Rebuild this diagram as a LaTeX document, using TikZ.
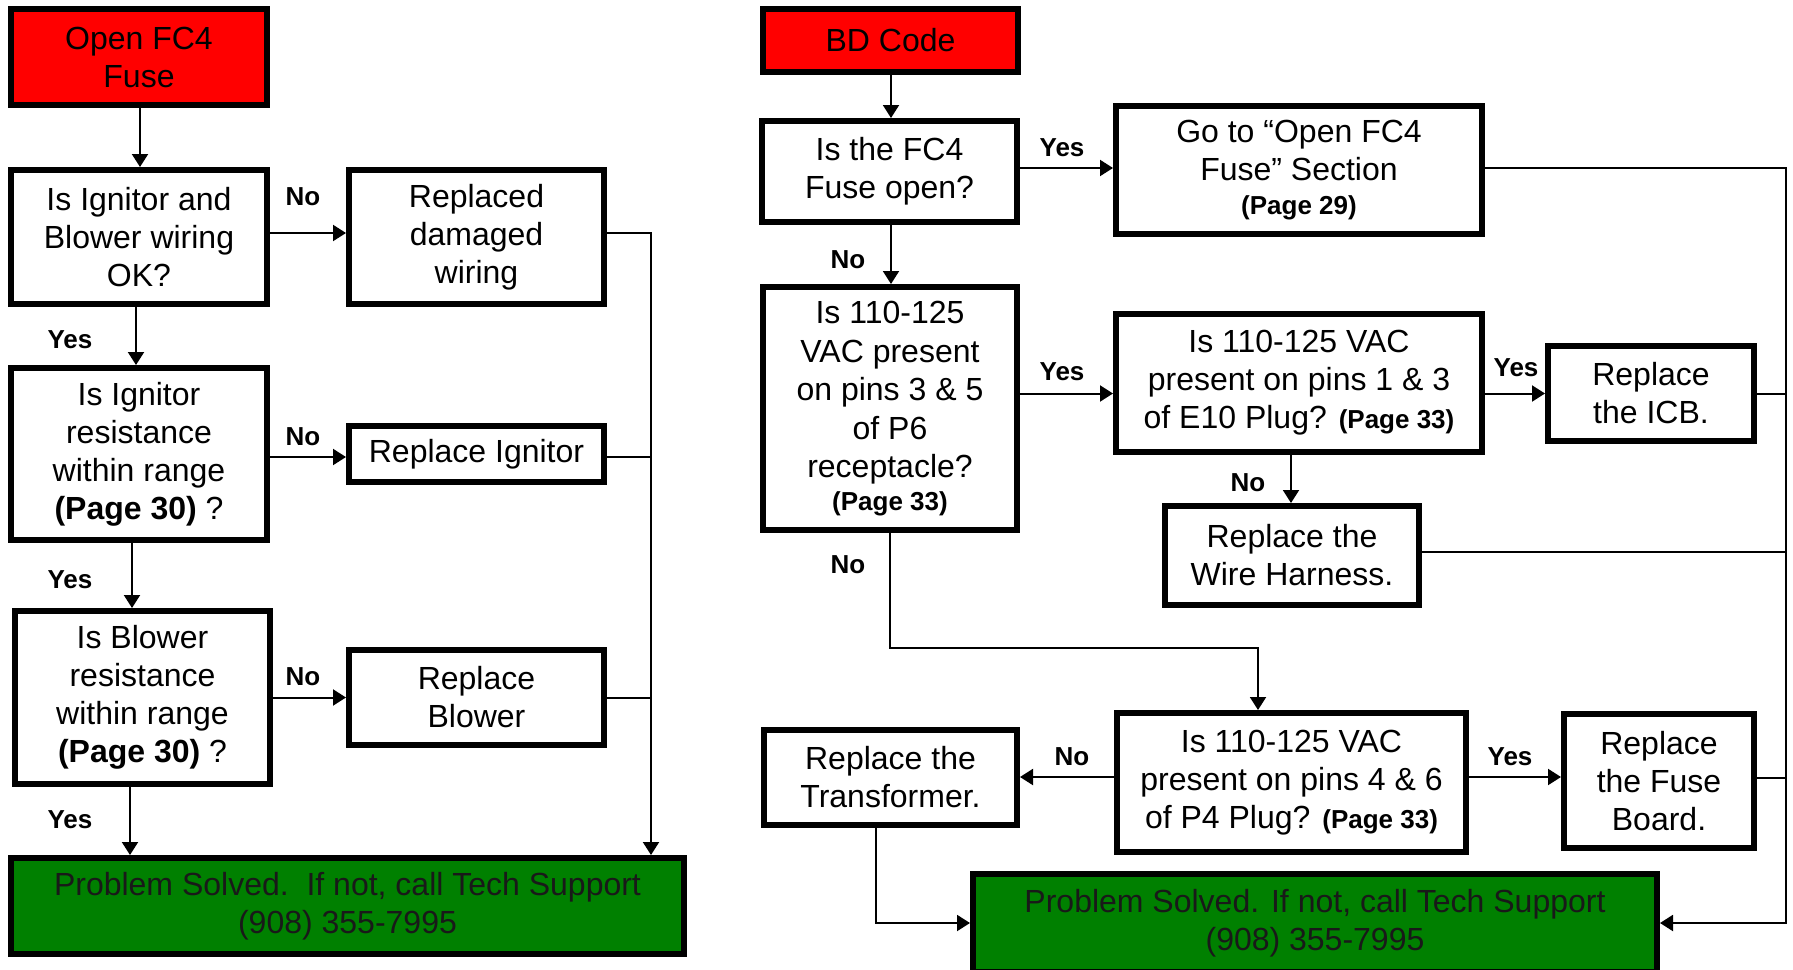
\documentclass[tikz,border=0pt]{standalone}
\usepackage{fontspec}
\setmainfont{Liberation Sans}
\usetikzlibrary{arrows.meta,calc}
\definecolor{boxred}{RGB}{255,0,0}
\definecolor{boxgreen}{RGB}{0,128,0}
\begin{document}
\begin{tikzpicture}[x=0.5pt,y=-0.5pt,
  box/.style={draw=black, line width=3pt, inner sep=0pt, align=center,
    font=\fontsize{16}{19}\selectfont},
  startbox/.style={box, fill=boxred},
  endbox/.style={box, fill=boxgreen, text=black!90},
  lab/.style={font=\fontsize{13}{15}\selectfont\bfseries},
  conn/.style={line width=1pt},
  arr/.style={line width=1pt, -{Triangle[length=6.5pt,width=8pt]}}]
\fill[white] (0,0) rectangle (1793,969);
\useasboundingbox (0,0) rectangle (1793,969);
\newcommand{\smallpg}[1]{{\fontsize{13}{15}\selectfont\bfseries #1}}
% ---------- left flow ----------
\node[startbox, minimum width=128pt, minimum height=48pt] (red1) at (139,57) {Open FC4\\Fuse};
\node[box, minimum width=128pt, minimum height=67pt] (q1) at (139,237) {Is Ignitor and\\Blower wiring\\OK?};
\node[box, minimum width=127.5pt, minimum height=67pt] (r1) at (476.5,237) {Replaced\\damaged\\wiring};
\node[box, minimum width=128pt, minimum height=86pt] (q2) at (139,454) {Is Ignitor\\resistance\\within range\\\textbf{(Page 30)} ?};
\node[box, minimum width=127.5pt, minimum height=28pt] (r2) at (476.5,454) {Replace Ignitor};
\node[box, minimum width=127.5pt, minimum height=86.5pt] (q3) at (142.5,697.5) {Is Blower\\resistance\\within range\\\textbf{(Page 30)} ?};
\node[box, minimum width=127.5pt, minimum height=47.5pt] (r3) at (476.5,697.5) {Replace\\Blower};
\node[endbox, minimum width=336.5pt, minimum height=48pt] (g1) at (347.5,906) {Problem Solved.\ \ If not, call Tech Support\\(908) 355-7995};
\coordinate (busL) at (651,0);

\draw[arr] (red1.south -| 140,0) -- (q1.north -| 140,0);
\draw[arr] (q1.south -| 136,0) -- (q2.north -| 136,0);
\draw[arr] (q2.south -| 132,0) -- (q3.north -| 132,0);
\draw[arr] (q3.south -| 130,0) -- (g1.north -| 130,0);
\draw[arr] (q1.east |- 0,233) -- (r1.west |- 0,233);
\draw[arr] (q2.east |- 0,457) -- (r2.west |- 0,457);
\draw[arr] (q3.east) -- (r3.west);
\draw[arr] (r1.east |- 0,233) -| (busL |- g1.north);
\draw[conn] (r2.east |- 0,457) -- (busL |- 0,457);
\draw[conn] (r3.east) -- (busL |- r3.east);

\node[lab] (n1) at (303,197) {No};
\node[lab] (n2) at (303,437) {No};
\node[lab] (n3) at (303,677) {No};
\node[lab] (y1) at (70,340) {Yes};
\node[lab] (y2) at (70,580) {Yes};
\node[lab] (y3) at (70,820) {Yes};

% ---------- right flow ----------
\node[startbox, minimum width=127.5pt, minimum height=31.5pt] (red2) at (890.5,40.5) {BD Code};
\node[box, minimum width=127.5pt, minimum height=50.5pt] (p1) at (889.5,171.5) {Is the FC4\\Fuse open?};
\node[box, minimum width=183pt, minimum height=64pt] (goto) at (1299,170) {Go to “Open FC4\\Fuse” Section\\[-2pt]\smallpg{(Page 29)}};
\node[box, minimum width=127pt, minimum height=121.5pt, font=\fontsize{16}{19.3}\selectfont] (p2) at (890,408.5) {Is 110-125\\VAC present\\on pins 3 \& 5\\of P6\\receptacle?\\[-3pt]\smallpg{(Page 33)}};
\node[box, minimum width=183pt, minimum height=69pt] (e10) at (1299,383) {Is 110-125 VAC\\present on pins 1 \& 3\\of E10 Plug? \smallpg{(Page 33)}};
\node[box, minimum width=103pt, minimum height=47.5pt] (icb) at (1651,393.5) {Replace\\the ICB.};
\node[box, minimum width=127pt, minimum height=49.5pt] (wh) at (1292,555.5) {Replace the\\Wire Harness.};
\node[box, minimum width=174.5pt, minimum height=69.5pt] (p4) at (1291.5,782.5) {Is 110-125 VAC\\present on pins 4 \& 6\\of P4 Plug? \smallpg{(Page 33)}};
\node[box, minimum width=126.5pt, minimum height=47.5pt] (tr) at (890.5,777.5) {Replace the\\Transformer.};
\node[box, minimum width=95pt, minimum height=67pt] (fb) at (1659,781) {Replace\\the Fuse\\Board.};
\node[endbox, minimum width=342pt, minimum height=49pt] (g2) at (1315,923) {Problem Solved. If not, call Tech Support\\(908) 355-7995};
\coordinate (busR) at (1786,0);
\coordinate (j1) at (1258,648);

\draw[arr] (red2.south -| 891,0) -- (p1.north -| 891,0);
\draw[arr] (p1.south -| 891,0) -- (p2.north -| 891,0);
\draw[arr] (p1.east |- 0,168) -- (goto.west |- 0,168);
\draw[arr] (p2.east |- icb.center) -- (e10.west |- icb.center);
\draw[arr] (e10.east |- icb.center) -- (icb.west);
\draw[arr] (e10.south -| 1291,0) -- (wh.north -| 1291,0);
\draw[arr] (p2.south) |- (j1) -- (j1 |- p4.north);
\draw[arr] (p4.west |- 0,777) -- (tr.east |- 0,777);
\draw[arr] (p4.east |- 0,777) -- (fb.west |- 0,777);
\draw[arr] (tr.south -| 876,0) |- (g2.west);
\draw[arr] (goto.east |- 0,168) -| (busR |- g2.east) -- (g2.east);
\draw[conn] (icb.east) -- (busR |- icb.east);
\draw[conn] (wh.east |- 0,552) -- (busR |- 0,552);
\draw[conn] (fb.east |- 0,778) -- (busR |- 0,778);

\node[lab] (ry1) at (1062,148) {Yes};
\node[lab] (rn1) at (848,260) {No};
\node[lab] (ry2) at (1062,372) {Yes};
\node[lab] (ry3) at (1516,368) {Yes};
\node[lab] (rn2) at (1248,483) {No};
\node[lab] (rn3) at (848,565) {No};
\node[lab] (rn4) at (1072,757) {No};
\node[lab] (ry4) at (1510,757) {Yes};
\end{tikzpicture}
\end{document}
